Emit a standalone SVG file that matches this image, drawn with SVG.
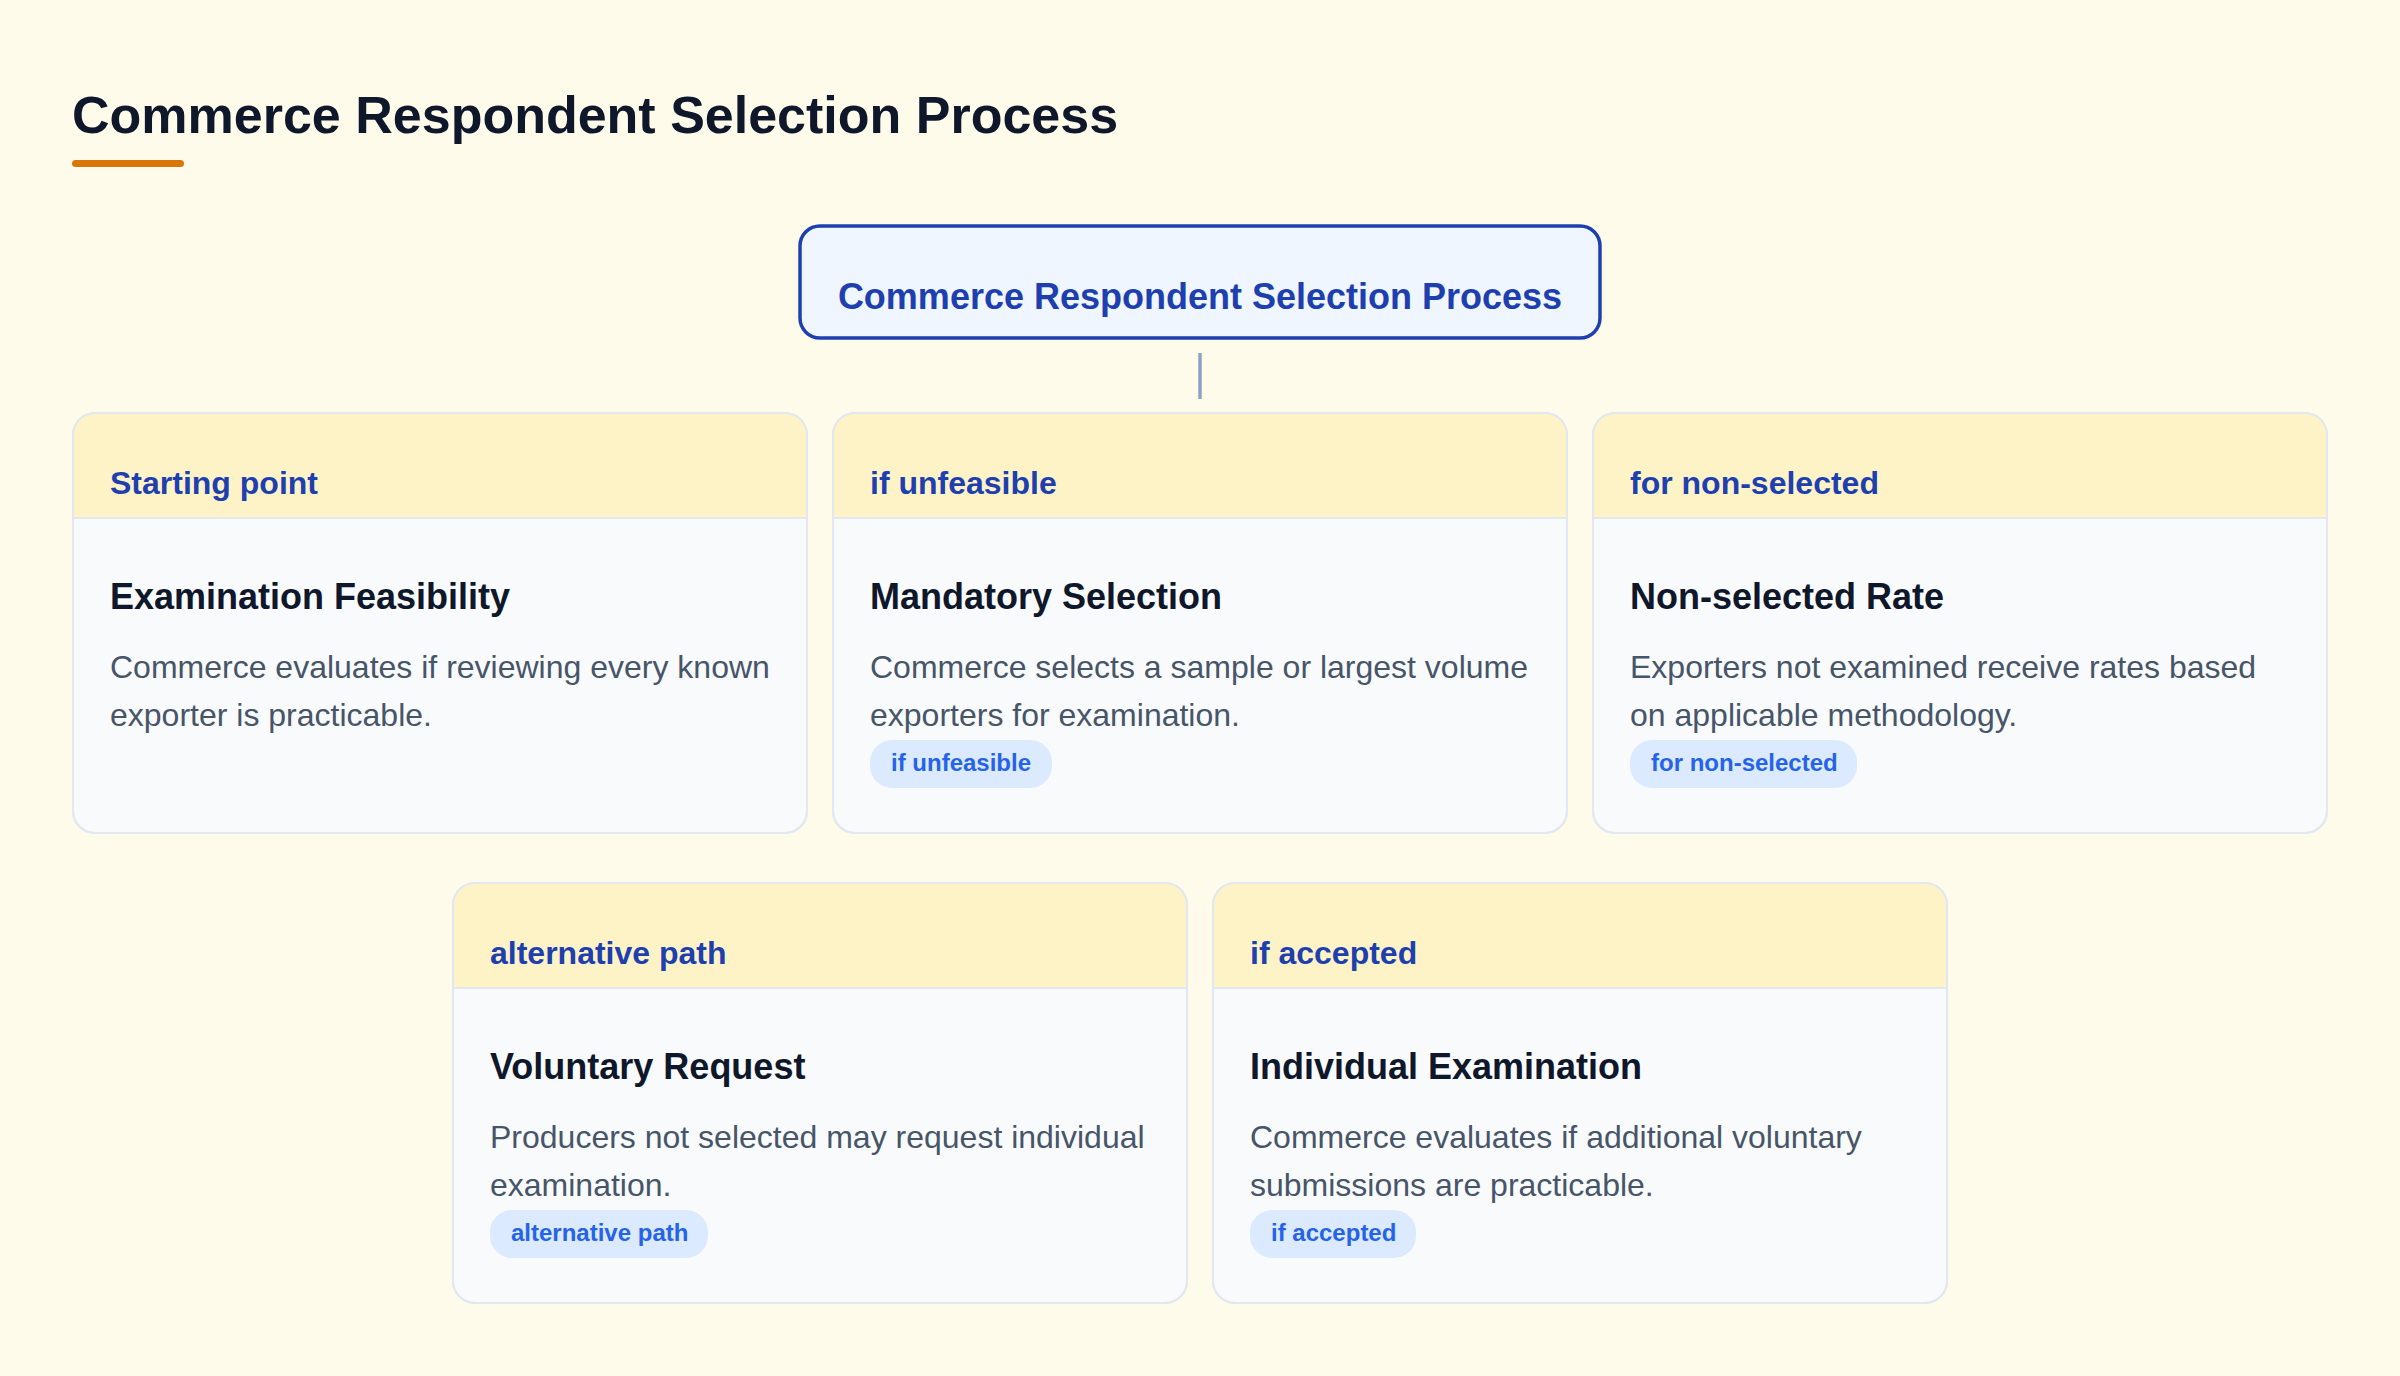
<svg xmlns="http://www.w3.org/2000/svg" width="2400" height="1376" viewBox="0 0 2400 1376">
  <defs>
    <style>
      .bg { fill: #fffbeb; }
      .h1 { font-family: "Liberation Sans", Arial, sans-serif; font-weight: 700; font-size: 52px; fill: #0f172a; }
      .root-box { fill: #eff6ff; stroke: #1e40af; stroke-width: 3.5; }
      .root-text { font-family: "Liberation Sans", Arial, sans-serif; font-weight: 700; font-size: 36px; fill: #1e40af; text-anchor: middle; }
      .card { fill: #f8fafc; stroke: #e2e8f0; stroke-width: 2; }
      .head { fill: #fef3c7; }
      .sep { stroke: #e2e8f0; stroke-width: 2; }
      .htext { font-family: "Liberation Sans", Arial, sans-serif; font-weight: 700; font-size: 32px; fill: #1e40af; }
      .title { font-family: "Liberation Sans", Arial, sans-serif; font-weight: 700; font-size: 36px; fill: #0f172a; }
      .desc { font-family: "Liberation Sans", Arial, sans-serif; font-size: 32px; fill: #475569; }
      .pill { fill: #dbeafe; }
      .ptext { font-family: "Liberation Sans", Arial, sans-serif; font-weight: 700; font-size: 24px; fill: #2563eb; }
      .conn { stroke: #8fa0c6; stroke-width: 3.5; fill: none; }
    </style>
    <clipPath id="c1"><rect x="73" y="413" width="734" height="420" rx="22"/></clipPath>
    <clipPath id="c2"><rect x="833" y="413" width="734" height="420" rx="22"/></clipPath>
    <clipPath id="c3"><rect x="1593" y="413" width="734" height="420" rx="22"/></clipPath>
    <clipPath id="c4"><rect x="453" y="883" width="734" height="420" rx="22"/></clipPath>
    <clipPath id="c5"><rect x="1213" y="883" width="734" height="420" rx="22"/></clipPath>
  </defs>

  <rect class="bg" x="0" y="0" width="2400" height="1376"/>

  <g id="page-title">
    <text class="h1" x="72" y="133">Commerce Respondent Selection Process</text>
    <rect x="72" y="160" width="112" height="7" rx="3.5" fill="#d97706"/>
  </g>

  <g id="connectors">
    <line class="conn" x1="1200" y1="353" x2="1200" y2="399"/>
  </g>

  <g id="root">
    <rect class="root-box" x="800" y="226" width="800" height="112" rx="20"/>
    <text class="root-text" x="1200" y="309">Commerce Respondent Selection Process</text>
  </g>

  <g id="examination-feasibility">
    <rect class="card" x="73" y="413" width="734" height="420" rx="22"/>
    <rect class="head" x="73" y="413" width="734" height="105" clip-path="url(#c1)"/>
    <line class="sep" x1="74" y1="518" x2="806" y2="518"/>
    <rect x="73" y="413" width="734" height="420" rx="22" fill="none" stroke="#e2e8f0" stroke-width="2"/>
    <text class="htext" x="110" y="494">Starting point</text>
    <text class="title" x="110" y="609">Examination Feasibility</text>
    <text class="desc" x="110" y="678">Commerce evaluates if reviewing every known</text>
    <text class="desc" x="110" y="726">exporter is practicable.</text>
  </g>

  <g id="mandatory-selection">
    <rect class="card" x="833" y="413" width="734" height="420" rx="22"/>
    <rect class="head" x="833" y="413" width="734" height="105" clip-path="url(#c2)"/>
    <line class="sep" x1="834" y1="518" x2="1566" y2="518"/>
    <rect x="833" y="413" width="734" height="420" rx="22" fill="none" stroke="#e2e8f0" stroke-width="2"/>
    <text class="htext" x="870" y="494">if unfeasible</text>
    <text class="title" x="870" y="609">Mandatory Selection</text>
    <text class="desc" x="870" y="678">Commerce selects a sample or largest volume</text>
    <text class="desc" x="870" y="726">exporters for examination.</text>
    <rect class="pill" x="870" y="740" width="182" height="48" rx="22"/>
    <text class="ptext" x="891" y="771">if unfeasible</text>
  </g>

  <g id="non-selected-rate">
    <rect class="card" x="1593" y="413" width="734" height="420" rx="22"/>
    <rect class="head" x="1593" y="413" width="734" height="105" clip-path="url(#c3)"/>
    <line class="sep" x1="1594" y1="518" x2="2326" y2="518"/>
    <rect x="1593" y="413" width="734" height="420" rx="22" fill="none" stroke="#e2e8f0" stroke-width="2"/>
    <text class="htext" x="1630" y="494">for non-selected</text>
    <text class="title" x="1630" y="609">Non-selected Rate</text>
    <text class="desc" x="1630" y="678">Exporters not examined receive rates based</text>
    <text class="desc" x="1630" y="726">on applicable methodology.</text>
    <rect class="pill" x="1630" y="740" width="227" height="48" rx="22"/>
    <text class="ptext" x="1651" y="771">for non-selected</text>
  </g>

  <g id="voluntary-request">
    <rect class="card" x="453" y="883" width="734" height="420" rx="22"/>
    <rect class="head" x="453" y="883" width="734" height="105" clip-path="url(#c4)"/>
    <line class="sep" x1="454" y1="988" x2="1186" y2="988"/>
    <rect x="453" y="883" width="734" height="420" rx="22" fill="none" stroke="#e2e8f0" stroke-width="2"/>
    <text class="htext" x="490" y="964">alternative path</text>
    <text class="title" x="490" y="1079">Voluntary Request</text>
    <text class="desc" x="490" y="1148">Producers not selected may request individual</text>
    <text class="desc" x="490" y="1196">examination.</text>
    <rect class="pill" x="490" y="1210" width="218" height="48" rx="22"/>
    <text class="ptext" x="511" y="1241">alternative path</text>
  </g>

  <g id="individual-examination">
    <rect class="card" x="1213" y="883" width="734" height="420" rx="22"/>
    <rect class="head" x="1213" y="883" width="734" height="105" clip-path="url(#c5)"/>
    <line class="sep" x1="1214" y1="988" x2="1946" y2="988"/>
    <rect x="1213" y="883" width="734" height="420" rx="22" fill="none" stroke="#e2e8f0" stroke-width="2"/>
    <text class="htext" x="1250" y="964">if accepted</text>
    <text class="title" x="1250" y="1079">Individual Examination</text>
    <text class="desc" x="1250" y="1148">Commerce evaluates if additional voluntary</text>
    <text class="desc" x="1250" y="1196">submissions are practicable.</text>
    <rect class="pill" x="1250" y="1210" width="166" height="48" rx="22"/>
    <text class="ptext" x="1271" y="1241">if accepted</text>
  </g>
</svg>
